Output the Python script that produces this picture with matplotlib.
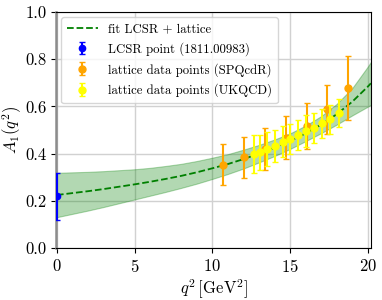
import matplotlib
matplotlib.use("Agg")
import matplotlib.pyplot as plt
import numpy as np

plt.rcParams.update({
    "font.family": "serif",
    "font.serif": ["cmr10", "DejaVu Serif"],
    "mathtext.fontset": "cm",
    "axes.formatter.use_mathtext": True,
})

# fit curve
fit_q2 = [0, 1, 2, 3, 4, 5, 6, 7, 8, 9, 10, 11, 12, 13, 14, 15, 16, 17, 18, 19, 20, 20.2]
fit_c = [0.225, 0.233, 0.241, 0.250, 0.260, 0.270, 0.281, 0.293, 0.306, 0.321, 0.338,
         0.356, 0.377, 0.400, 0.425, 0.453, 0.486, 0.523, 0.567, 0.620, 0.684, 0.698]
fit_hw = [0.094, 0.088, 0.082, 0.076, 0.070, 0.064, 0.059, 0.055, 0.051, 0.048, 0.045,
          0.042, 0.040, 0.037, 0.035, 0.033, 0.033, 0.036, 0.044, 0.058, 0.085, 0.091]

# LCSR point
lcsr_q2 = [0.0]
lcsr_A = [0.22]
lcsr_err = [0.10]

# SPQcdR lattice points
spq_q2 = [10.69, 12.04, 13.38, 14.73, 16.06, 17.38, 18.71]
spq_A = [0.354, 0.384, 0.419, 0.467, 0.517, 0.588, 0.677]
spq_err = [0.085, 0.086, 0.088, 0.091, 0.098, 0.104, 0.135]

# UKQCD lattice points
ukq_q2 = [12.71, 13.05, 13.53, 14.0, 14.53, 15.0, 15.52, 16.03, 16.55, 17.05, 17.55, 18.13]
ukq_A = [0.397, 0.405, 0.419, 0.434, 0.451, 0.463, 0.478, 0.496, 0.510, 0.528, 0.546, 0.571]
ukq_err = [0.080, 0.076, 0.072, 0.068, 0.066, 0.064, 0.064, 0.066, 0.064, 0.062, 0.062, 0.060]

fig = plt.figure(figsize=(3.82, 3.0), dpi=100)
ax = fig.add_axes([0.147, 0.173, 0.824, 0.787])

fq = np.array(fit_q2)
fc = np.array(fit_c)
fh = np.array(fit_hw)
ax.fill_between(fq, fc - fh, fc + fh, color="green", alpha=0.3, lw=0.8, zorder=2)
ax.plot(fq, fc, "--", color="green", lw=1.3, label="fit LCSR + lattice", zorder=3)

ax.errorbar(lcsr_q2, lcsr_A, yerr=lcsr_err, fmt="o", color="blue", ms=4.5,
            elinewidth=1.5, capsize=2, label="LCSR point (1811.00983)", zorder=4)
ax.errorbar(spq_q2, spq_A, yerr=spq_err, fmt="o", color="orange", ms=5,
            elinewidth=1.5, capsize=2, label="lattice data points (SPQcdR)", zorder=4)
ax.errorbar(ukq_q2, ukq_A, yerr=ukq_err, fmt="o", color="yellow", ms=5,
            elinewidth=1.5, capsize=2, label="lattice data points (UKQCD)", zorder=5)

ax.set_xlim(-0.05, 20.2)
ax.set_ylim(0, 1)
ax.set_xticks([0, 5, 10, 15, 20])
ax.set_yticks([0.0, 0.2, 0.4, 0.6, 0.8, 1.0])
ax.set_yticklabels(["0.0", "0.2", "0.4", "0.6", "0.8", "1.0"])
ax.grid(True, color="0.82", lw=1.0, zorder=0)
ax.set_axisbelow(True)
ax.spines["left"].set_color("0.55")
ax.spines["left"].set_linewidth(1.8)
ax.tick_params(labelsize=12, length=3.5)
ax.set_xlabel(r"$q^2\,[\mathrm{GeV}^2]$", fontsize=12, labelpad=2)
ax.set_ylabel(r"$A_1(q^2)$", fontsize=12, labelpad=1)

leg = ax.legend(loc="upper left", fontsize=9.2, frameon=True, fancybox=True,
                edgecolor="0.8", framealpha=0.8, handlelength=2.4,
                borderpad=0.45, labelspacing=0.55, borderaxespad=0.4)

fig.savefig("out.png", dpi=100)
